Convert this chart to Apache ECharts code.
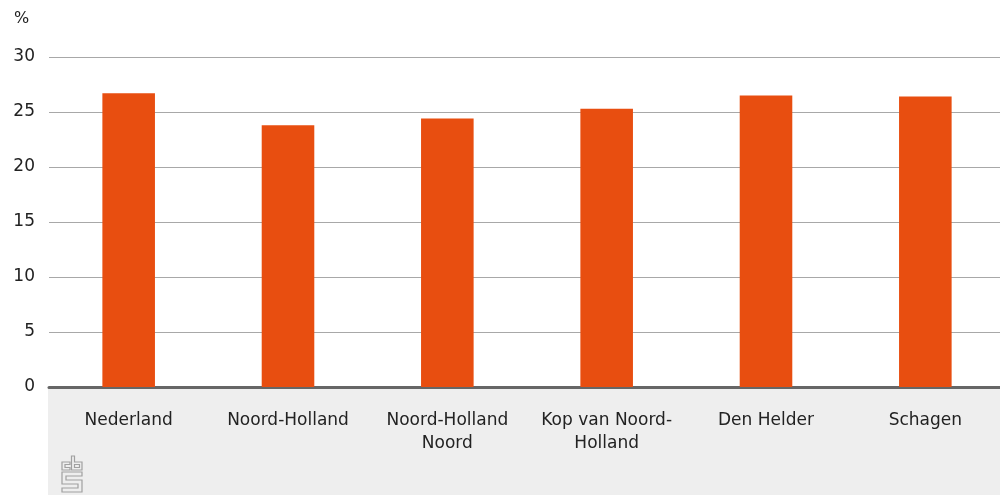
<!DOCTYPE html>
<html>
<head>
<meta charset="utf-8">
<script src="https://cdn.jsdelivr.net/npm/echarts@6/dist/echarts.min.js"></script>
<style>
html,body{margin:0;padding:0;background:#fff;overflow:hidden;width:1000px;height:495px;}
#c{width:1005px;height:495px;}
</style>
</head>
<body>
<div id="c"></div>
<script>
const categories = ['Nederland', 'Noord-Holland', 'Noord-Holland\nNoord', 'Kop van Noord-\nHolland', 'Den Helder', 'Schagen'];
const values = [26.7, 23.8, 24.4, 25.3, 26.5, 26.4];
const yTicks = [0, 5, 10, 15, 20, 25, 30];
const unitLabel = '%';

const chart = echarts.init(document.getElementById('c'));
const FONT = '"DejaVu Sans", "Noto Sans", sans-serif';
const gridLeft = 49, gridTop = 57, gridBottom = 108;
const logoX = 60, logoY = 456, g = '#a0a0a0';
const ls = { stroke: g, lineWidth: 1.2, fill: null };
chart.setOption({
  animation: false,
  backgroundColor: '#fff',
  graphic: [
    { type: 'rect', z: -10, shape: { x: 48, y: 495 - gridBottom, width: 1005 - 48, height: gridBottom }, style: { fill: '#eeeeee' } },
    { type: 'text', left: 14, top: 11, style: { text: unitLabel, font: '16px ' + FONT, fill: '#222' } },
    { type: 'group', x: logoX, y: logoY, children: [
      { type: 'polygon', shape: { points: [[10,6],[2,6],[2,14],[10,14],[10,11.5],[5,11.5],[5,8.5],[10,8.5]] }, style: ls },
      { type: 'polygon', shape: { points: [[11.5,0],[14.5,0],[14.5,6],[22,6],[22,14],[11.5,14]] }, style: ls },
      { type: 'rect', shape: { x: 14.5, y: 8.5, width: 5, height: 3 }, style: ls },
      { type: 'polygon', shape: { points: [[2,16],[22,16],[22,20],[6,20],[6,24],[22,24],[22,36],[2,36],[2,32],[18,32],[18,28],[2,28]] }, style: ls }
    ]}
  ],
  grid: { left: gridLeft, right: 0, top: gridTop, bottom: gridBottom, containLabel: false },
  xAxis: {
    type: 'category',
    data: categories,
    axisLine: { lineStyle: { color: '#666', width: 3 } },
    axisTick: { show: false },
    axisLabel: { fontFamily: FONT, fontSize: 17, color: '#222', margin: 22, lineHeight: 23, interval: 0 }
  },
  yAxis: {
    type: 'value',
    min: 0, max: 30, interval: 5,
    axisLine: { show: false },
    axisTick: { show: false },
    splitLine: { lineStyle: { color: '#a8a8a8', width: 1 } },
    axisLabel: { fontFamily: FONT, fontSize: 17, color: '#222', margin: 14,
      formatter: v => yTicks.includes(v) ? String(v) : '' }
  },
  series: [{
    type: 'bar',
    data: values,
    barWidth: '33%',
    itemStyle: { color: '#e84e10' }
  }]
});
</script>
</body>
</html>
